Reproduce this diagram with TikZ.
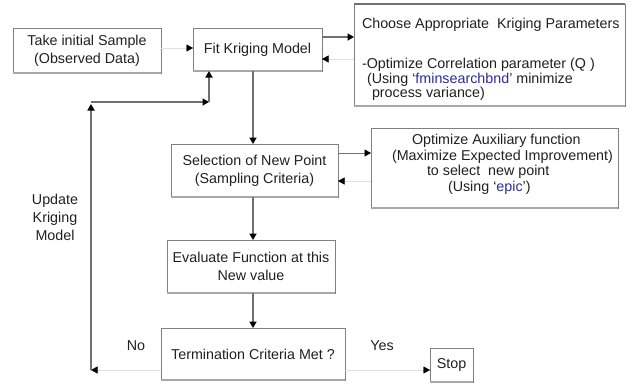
\documentclass[tikz,border=0pt]{standalone}
\usepackage{fontspec}
\setmainfont{Liberation Sans}
\usetikzlibrary{arrows.meta}
\definecolor{linegray}{HTML}{707070}
\definecolor{boxgray}{HTML}{808080}
\definecolor{shadowgray}{HTML}{A8A8A8}
\definecolor{txtblue}{HTML}{2A2AA0}
\definecolor{txtcol}{HTML}{202020}
\tikzset{
  box/.style={draw=boxgray, line width=0.8pt, rectangle, inner sep=0pt, outer sep=0pt, align=center, text=txtcol, font=\fontsize{14.3}{18}\selectfont},
  txt/.style={inner sep=0pt, outer sep=0pt, text=txtcol, font=\fontsize{14.3}{18}\selectfont},
  tip/.style={-{Triangle[length=6.5pt,width=7pt,color=black]}},
  thickconn/.style={draw=linegray, line width=2.3pt, tip},
  thinconn/.style={draw=linegray, line width=0.9pt, tip},
  faintconn/.style={draw=black!12, line width=0.4pt, tip},
  shadowline/.style={draw=shadowgray, line width=2.4pt}
}
\begin{document}
\begin{tikzpicture}[x=1pt,y=-1pt]
\useasboundingbox (0,0) rectangle (634,383);
% boxes
\node[box, minimum width=148pt, minimum height=45pt] (take) at (87,50.5) {Take initial Sample\\(Observed Data)};
\node[box, minimum width=129pt, minimum height=43pt] (fit) at (257.5,49.5) {Fit Kriging Model};
\node[box, minimum width=271pt, minimum height=102pt] (choose) at (489.5,55) {};
\node[box, minimum width=167pt, minimum height=53pt] (sel) at (254.5,170.5) {Selection of New Point\\(Sampling Criteria)};
\node[box, minimum width=247pt, minimum height=80pt] (aux) at (494.5,168) {};
\node[box, minimum width=168pt, minimum height=53pt] (eval) at (251,266.5) {Evaluate Function at this\\New value};
\node[box, minimum width=184pt, minimum height=52pt] (term) at (253,354) {Termination Criteria Met ?};
\node[box, minimum width=43pt, minimum height=34pt] (stop) at (451.5,365) {Stop};
% shadows
\foreach \b in {take,fit,choose,sel,aux,eval,term,stop}
  \draw[shadowline] (\b.south west) -- (\b.south east);
\draw[draw=linegray, line width=2pt] (choose.north west) -- (choose.north east);
% texts of choose box
\node[txt, anchor=base west] (c1) at (362,28) {Choose Appropriate\ \ Kriging Parameters};
\node[txt, anchor=base west] (c2) at (362,68) {-Optimize Correlation parameter (Q )};
\node[txt, anchor=base west] (c3) at (367,83) {(Using `\textcolor{txtblue}{fminsearchbnd}' minimize};
\node[txt, anchor=base west] (c4) at (372,97) {process variance)};
% texts of aux box
\node[txt, anchor=base west] (a1) at (412,144) {Optimize Auxiliary function};
\node[txt, anchor=base west] (a2) at (392,160) {(Maximize Expected Improvement)};
\node[txt, anchor=base west] (a3) at (427,175) {to select\ \ new point};
\node[txt, anchor=base west] (a4) at (448,191) {(Using `\textcolor{txtblue}{epic}')};
% labels
\node[txt, align=center] (upd) at (55,217) {Update\\Kriging\\Model};
\node[txt] (no) at (136,346) {No};
\node[txt] (yes) at (382,346) {Yes};
% coordinates
\coordinate (yFC) at (0,37);
\coordinate (yCF) at (0,59);
\coordinate (yTF) at (0,48);
\coordinate (ySA) at (0,153);
\coordinate (yAS) at (0,181);
\coordinate (yT) at (0,370);
\coordinate (xM) at (253,0);
\coordinate (lp1) at (91,370);
\coordinate (lp2) at (91,104);
\coordinate (lp3) at (91,102);
\coordinate (lp4) at (209,102);
% connectors
\draw[faintconn] (take.east |- yTF) -- (fit.west |- yTF);
\draw[thickconn] (fit.east |- yFC) -- (choose.west |- yFC);
\draw[faintconn] (choose.west |- yCF) -- (fit.east |- yCF);
\draw[thickconn] (fit.south -| xM) -- (sel.north -| xM);
\draw[thinconn] (sel.east |- ySA) -- (aux.west |- ySA);
\draw[faintconn] (aux.west |- yAS) -- (sel.east |- yAS);
\draw[thickconn] (sel.south -| xM) -- (eval.north -| xM);
\draw[thickconn] (eval.south -| xM) -- (term.north -| xM);
\draw[faintconn] (term.east |- yT) -- (stop.west |- yT);
\draw[faintconn] (term.west |- yT) -- (lp1);
\draw[thickconn] (lp1) -- (lp2);
\draw[thickconn] (lp3) -- (lp4);
\draw[thickconn] (lp4) -- (fit.south -| lp4);
\end{tikzpicture}
\end{document}
